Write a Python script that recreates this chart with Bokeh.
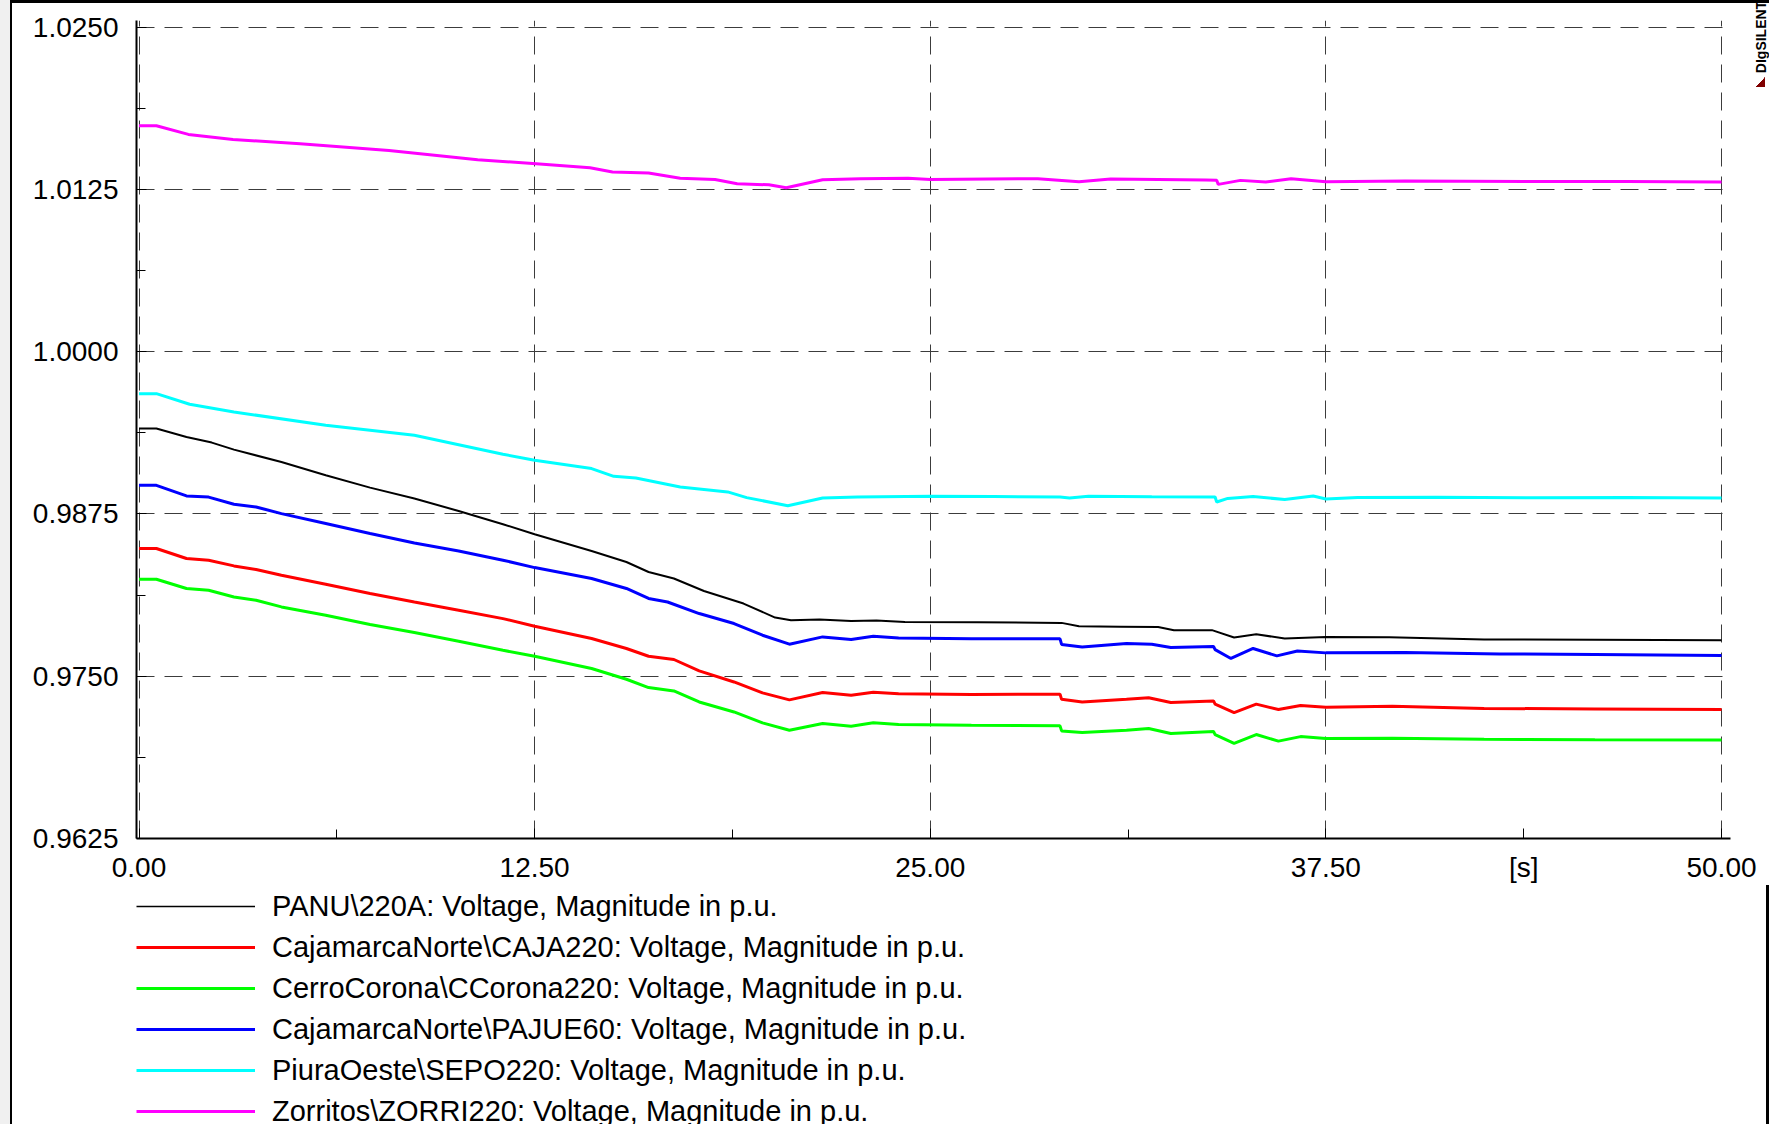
import math
from bokeh.plotting import figure
from bokeh.layouts import column
from bokeh.models import (Range1d, FixedTicker, PrintfTickFormatter, Legend, LegendItem,
                          LinearAxis)
from bokeh.core.properties import value
from bokeh.embed import file_html
from bokeh.resources import INLINE

FONT = "Liberation Sans"

# ---------------- data (time in s, voltage in p.u.) ----------------
T_PANU = [0, 0.55, 1.5, 2.3, 3.0, 4.5, 5.9, 7.3, 8.7, 10.1, 11.5, 12.5, 14.3, 15.4, 16.1,
          16.9, 17.85, 19.1, 20.1, 20.6, 21.5, 22.5, 23.3, 24.2, 26.5, 29.15, 29.7, 31.0,
          32.2, 32.7, 33.9, 34.6, 35.3, 36.2, 37.5, 39.5, 42.5, 46.0, 50.0]
V_PANU = [0.99408, 0.99408, 0.99343, 0.99300, 0.99246, 0.99150, 0.99048, 0.98953, 0.98869,
          0.98773, 0.98671, 0.98594, 0.98465, 0.98380, 0.98303, 0.98253, 0.98157, 0.98060,
          0.97952, 0.97932, 0.97938, 0.97925, 0.97930, 0.97918, 0.97915, 0.97911, 0.97885,
          0.97882, 0.97880, 0.97855, 0.97855, 0.97798, 0.97824, 0.97790, 0.97803, 0.97800,
          0.97783, 0.97782, 0.97778]

T_PAJUE = [0, 0.55, 1.5, 2.2, 3.0, 3.7, 4.5, 5.9, 7.3, 8.7, 10.1, 11.5, 12.5, 14.3, 15.4,
           16.1, 16.7, 17.7, 18.8, 19.7, 20.55, 21.6, 22.5, 23.2, 24.0, 26.3, 29.1, 29.15,
           29.8, 31.2, 32.0, 32.6, 33.95, 34.0, 34.5, 35.2, 35.95, 36.6, 37.5, 40.0, 43.0,
           46.0, 50.0]
V_PAJUE = [0.98971, 0.98971, 0.98889, 0.98880, 0.98825, 0.98804, 0.98753, 0.98676, 0.98599,
           0.98527, 0.98465, 0.98394, 0.98337, 0.98253, 0.98176, 0.98099, 0.98072, 0.97983,
           0.97906, 0.97816, 0.97747, 0.97803, 0.97783, 0.97808, 0.97795, 0.97788, 0.97788,
           0.97745, 0.97726, 0.97752, 0.97747, 0.97722, 0.97730, 0.97705, 0.97637, 0.97714,
           0.97657, 0.97695, 0.97680, 0.97683, 0.97672, 0.97668, 0.97660]

T_CAJA = [0, 0.55, 1.5, 2.2, 3.0, 3.7, 4.5, 5.9, 7.3, 8.7, 10.1, 11.5, 12.5, 14.3, 15.4,
          16.1, 16.9, 17.7, 18.8, 19.7, 20.55, 21.6, 22.5, 23.2, 24.0, 26.3, 29.1, 29.15,
          29.8, 31.2, 31.9, 32.6, 33.95, 34.0, 34.6, 35.3, 36.0, 36.7, 37.5, 39.6, 42.5,
          46.0, 50.0]
V_CAJA = [0.98484, 0.98484, 0.98407, 0.98394, 0.98350, 0.98322, 0.98278, 0.98209, 0.98137,
          0.98072, 0.98009, 0.97944, 0.97885, 0.97791, 0.97714, 0.97654, 0.97629, 0.97541,
          0.97456, 0.97372, 0.97318, 0.97375, 0.97354, 0.97377, 0.97365, 0.97360, 0.97362,
          0.97322, 0.97302, 0.97322, 0.97334, 0.97298, 0.97310, 0.97285, 0.97219, 0.97285,
          0.97244, 0.97275, 0.97262, 0.97269, 0.97252, 0.97248, 0.97244]

T_CCOR = T_CAJA
V_CCOR = [0.98247, 0.98247, 0.98176, 0.98163, 0.98111, 0.98085, 0.98034, 0.97970, 0.97898,
          0.97837, 0.97770, 0.97700, 0.97654, 0.97560, 0.97477, 0.97413, 0.97387, 0.97302,
          0.97225, 0.97141, 0.97084, 0.97136, 0.97115, 0.97141, 0.97128, 0.97123, 0.97118,
          0.97079, 0.97067, 0.97084, 0.97097, 0.97059, 0.97075, 0.97050, 0.96982, 0.97051,
          0.97000, 0.97035, 0.97020, 0.97023, 0.97015, 0.97010, 0.97008]

T_SEPO = [0, 0.55, 1.6, 3.0, 5.9, 8.7, 11.5, 12.5, 14.3, 15.0, 15.7, 17.1, 18.6, 19.2, 20.5,
          21.6, 22.7, 25.0, 27.0, 29.1, 29.4, 30.0, 32.0, 34.0, 34.05, 34.4, 35.2, 36.2,
          37.1, 37.5, 38.5, 41.0, 44.0, 47.0, 50.0]
V_SEPO = [0.99677, 0.99677, 0.99595, 0.99536, 0.99433, 0.99356, 0.99210, 0.99164, 0.99100,
          0.99040, 0.99027, 0.98958, 0.98920, 0.98876, 0.98814, 0.98873, 0.98881, 0.98886,
          0.98884, 0.98881, 0.98874, 0.98886, 0.98883, 0.98881, 0.98842, 0.98870, 0.98885,
          0.98861, 0.98888, 0.98865, 0.98876, 0.98878, 0.98875, 0.98876, 0.98874]

T_ZORRI = [0, 0.55, 1.56, 2.97, 5.09, 7.9, 10.7, 12.55, 14.25, 14.96, 16.1, 17.1, 18.2,
           18.9, 19.9, 20.45, 21.6, 22.8, 24.3, 25.0, 28.4, 29.7, 30.7, 33.7, 34.05, 34.1,
           34.8, 35.6, 36.4, 37.5, 40.0, 44.0, 47.0, 50.0]
V_ZORRI = [1.01741, 1.01741, 1.01674, 1.01635, 1.01602, 1.01551, 1.01479, 1.01448, 1.01417,
           1.01384, 1.01376, 1.01337, 1.01327, 1.01294, 1.01286, 1.01263, 1.01325, 1.01333,
           1.01337, 1.01327, 1.01333, 1.01309, 1.01330, 1.01322, 1.01320, 1.01289, 1.01320,
           1.01307, 1.01333, 1.01309, 1.01315, 1.01312, 1.01312, 1.01307]

LABELS = [r"PANU\220A: Voltage, Magnitude in p.u.",
          r"CajamarcaNorte\CAJA220: Voltage, Magnitude in p.u.",
          r"CerroCorona\CCorona220: Voltage, Magnitude in p.u.",
          r"CajamarcaNorte\PAJUE60: Voltage, Magnitude in p.u.",
          r"PiuraOeste\SEPO220: Voltage, Magnitude in p.u.",
          r"Zorritos\ZORRI220: Voltage, Magnitude in p.u."]
TIMES = [T_PANU, T_CAJA, T_CCOR, T_PAJUE, T_SEPO, T_ZORRI]
VALUES = [V_PANU, V_CAJA, V_CCOR, V_PAJUE, V_SEPO, V_ZORRI]

X_MAJOR = [0, 12.5, 25, 37.5, 50]
X_MINOR = [6.25, 18.75, 31.25]
X_UNIT_TICK = 43.75
Y_MAJOR = [0.9625, 0.975, 0.9875, 1.0, 1.0125, 1.025]
Y_MINOR = [0.96875, 0.98125, 0.99375, 1.00625, 1.01875]
BRAND_TEXT = "DIgSILENT"
BRAND_TICK = 0.93643

# ---------------- styles ----------------
COLORS = ["#000000", "#ff0000", "#00ff00", "#0000ff", "#00ffff", "#ff00ff"]
WIDTHS = [2, 3, 3, 3, 3, 3]
LEGEND_WIDTHS = [1.5, 3, 3, 3, 3, 3]
TOP_H = 885
TOTAL_H = 1124
BORDER_L = 136
BORDER_R = 39
FRAME_W = 1594

# ---------------- main chart ----------------
p = figure(frame_width=FRAME_W, frame_height=818,
           min_border_left=BORDER_L, min_border_right=BORDER_R, min_border_top=20,
           min_border_bottom=TOP_H - 838,
           x_range=Range1d(-0.079, 50.284), y_range=Range1d(0.9625, 1.025516),
           output_backend="svg", toolbar_location=None)
p.outline_line_color = None
p.background_fill_color = "white"
p.border_fill_color = None
p.styles = {
    "box-shadow": ("inset 10px 0 0 0 #f0f0f0, inset 12px 0 0 0 #000000, "
                   "inset 0 3px 0 0 #000000, inset -3px 0 0 0 #000000"),
    "background-image": "linear-gradient(to top left, #800000 50%, transparent 51%)",
    "background-size": "9px 10px",
    "background-position": "1756px 77px",
    "background-repeat": "no-repeat",
}

for ax in (p.xaxis, p.yaxis):
    ax.axis_line_color = "black"
    ax.axis_line_width = 2
    ax.major_tick_in = 10
    ax.major_tick_out = 0
    ax.minor_tick_in = 9
    ax.minor_tick_out = 0
    ax.major_tick_line_color = "black"
    ax.minor_tick_line_color = "black"
    ax.major_tick_line_width = 1
    ax.minor_tick_line_width = 1
    ax.major_label_text_font = FONT
    ax.major_label_text_font_size = "28px"
    ax.major_label_text_color = "black"

p.xaxis.ticker = FixedTicker(ticks=X_MAJOR + [X_UNIT_TICK], minor_ticks=X_MINOR)
p.xaxis.formatter = PrintfTickFormatter(format="%.2f")
p.xaxis.major_label_overrides = {X_UNIT_TICK: "[s]"}
p.xaxis.major_label_standoff = 13

p.yaxis.ticker = FixedTicker(ticks=Y_MAJOR, minor_ticks=Y_MINOR)
p.yaxis.formatter = PrintfTickFormatter(format="%.4f")
p.yaxis.major_label_standoff = 18

p.xgrid.ticker = FixedTicker(ticks=X_MAJOR)
p.ygrid.ticker = FixedTicker(ticks=Y_MAJOR)
for g in (p.xgrid, p.ygrid):
    g.grid_line_color = "#3c3c3c"
    g.grid_line_width = 1
    g.grid_line_dash = "18 10"

# vertical product tag on the right edge
p.extra_y_ranges = {"brand": Range1d(0, 1)}
brand_axis = LinearAxis(y_range_name="brand", ticker=FixedTicker(ticks=[BRAND_TICK], minor_ticks=[]),
                        major_label_overrides={BRAND_TICK: BRAND_TEXT},
                        major_label_orientation=-1.5 * math.pi, major_label_standoff=31,
                        major_label_text_font=FONT, major_label_text_font_style="bold",
                        major_label_text_font_size="14px", major_label_text_color="black",
                        axis_line_color=None, major_tick_line_color=None,
                        minor_tick_line_color=None, major_tick_in=0, major_tick_out=0,
                        minor_tick_in=0, minor_tick_out=0)
p.add_layout(brand_axis, "right")

for t, v, c, w in zip(TIMES, VALUES, COLORS, WIDTHS):
    p.line(t, v, line_color=c, line_width=w)

# ---------------- legend strip below the chart ----------------
q = figure(frame_width=FRAME_W, frame_height=TOTAL_H - TOP_H,
           min_border_left=BORDER_L, min_border_right=BORDER_R,
           min_border_top=0, min_border_bottom=0,
           x_range=Range1d(1000, 1001), y_range=Range1d(1000, 1001),
           x_axis_type=None, y_axis_type=None,
           output_backend="svg", toolbar_location=None)
q.outline_line_color = None
q.background_fill_color = None
q.border_fill_color = None
q.styles = {"box-shadow": ("inset 10px 0 0 0 #f0f0f0, inset 12px 0 0 0 #000000, "
                           "inset -3px 0 0 0 #000000")}

items = []
for lab, t, v, c, w in zip(LABELS, TIMES, VALUES, COLORS, LEGEND_WIDTHS):
    r = q.line(t, v, line_color=c, line_width=w)
    items.append(LegendItem(label=value(lab), renderers=[r]))

legend = Legend(items=items, location=(0, -7), orientation="vertical",
                glyph_width=119, glyph_height=40, label_height=40, spacing=1,
                padding=0, margin=0, label_standoff=17,
                label_text_font=FONT, label_text_font_size="29px", label_text_color="black",
                background_fill_alpha=0, border_line_alpha=0)
q.add_layout(legend)

page = column(p, q, spacing=0)
open("out.html", "w").write(file_html(page, INLINE))
